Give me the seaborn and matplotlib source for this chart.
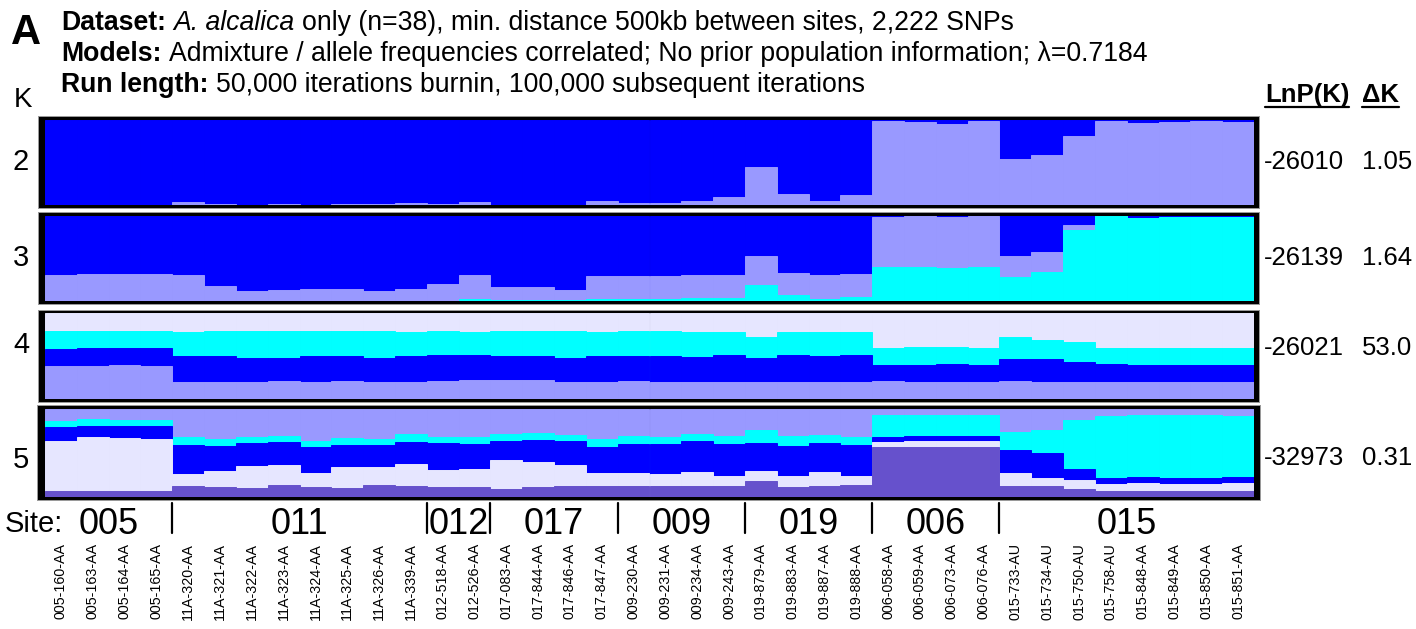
import numpy as np
import matplotlib
matplotlib.use("Agg")
import matplotlib.pyplot as plt
import matplotlib.transforms as mtransforms
from matplotlib.patches import Rectangle
from matplotlib.lines import Line2D
import seaborn as sns

sns.set_style("white")
plt.rcParams['font.family'] = ['Liberation Sans', 'DejaVu Sans']
plt.rcParams['text.color'] = 'black'
plt.rcParams['xtick.color'] = 'black'
plt.rcParams['xtick.labelcolor'] = 'black'

# ---------------- data ----------------
samples = ["005-160-AA", "005-163-AA", "005-164-AA", "005-165-AA",
           "11A-320-AA", "11A-321-AA", "11A-322-AA", "11A-323-AA",
           "11A-324-AA", "11A-325-AA", "11A-326-AA", "11A-339-AA",
           "012-518-AA", "012-526-AA",
           "017-083-AA", "017-844-AA", "017-846-AA", "017-847-AA",
           "009-230-AA", "009-231-AA", "009-234-AA", "009-243-AA",
           "019-879-AA", "019-883-AA", "019-887-AA", "019-888-AA",
           "006-058-AA", "006-059-AA", "006-073-AA", "006-076-AA",
           "015-733-AU", "015-734-AU", "015-750-AU", "015-758-AU",
           "015-848-AA", "015-849-AA", "015-850-AA", "015-851-AA"]
sites = ["005", "011", "012", "017", "009", "019", "006", "015"]
site_counts = [4, 8, 2, 4, 4, 4, 4, 8]

k_values = ["2", "3", "4", "5"]
lnp_values = ["-26010", "-26139", "-26021", "-32973"]
delta_k = ["1.05", "1.64", "53.0", "0.31"]

# K=2 (bottom -> top): light purple, blue
k2_lpurple = [0, 0, 0, 0, .035, .012, .005, .012, 0, .012, .012, .024, .012, .035,
              .005, 0, 0, .047, .024, .024, .047, .094, .447, .13, .047, .118,
              .988, .976, .953, .988, .545, .59, .816, .988, .97, .976, .988, .976]
k2_blue = [1, 1, 1, 1, .965, .988, .995, .988, 1, .988, .988, .976, .988, .965,
           .995, 1, 1, .953, .976, .976, .953, .906, .553, .87, .953, .882,
           .012, .024, .047, .012, .455, .41, .184, .012, .03, .024, .012, .024]

# K=3 (bottom -> top): cyan, light purple, blue
k3_cyan = [0, 0, .005, 0, .005, 0, 0, 0, .005, 0, 0, .005, 0, .02,
           .008, .008, .008, .02, .02, .027, .03, .03, .187, .07, .02, .047,
           .40, .40, .387, .40, .28, .34, .83, .996, .98, .99, .99, .99]
k3_lpurple = [.306, .318, .313, .318, .301, .18, .118, .129, .136, .141, .118, .136, .2, .29,
              .162, .162, .117, .28, .28, .273, .28, .28, .346, .265, .29, .273,
              .59, .60, .597, .60, .25, .234, .06, 0, 0, 0, 0, 0]
k3_blue = [.694, .682, .682, .682, .694, .82, .882, .871, .859, .859, .882, .859, .8, .69,
           .83, .83, .875, .70, .70, .70, .69, .69, .467, .665, .69, .68,
           .01, 0, .016, 0, .47, .426, .11, .004, .02, .01, .01, .01]

# K=4 (bottom -> top): light purple, blue, cyan, lavender
k4_lpurple = [.385, .385, .397, .385, .198, .198, .198, .210, .198, .210, .198, .198, .210, .222,
              .222, .222, .198, .198, .210, .198, .198, .198, .198, .198, .198, .198,
              .210, .198, .198, .198, .210, .198, .198, .198, .198, .198, .198, .198]
k4_blue = [.198, .21, .198, .21, .304, .304, .28, .268, .304, .292, .28, .304, .304, .292,
           .28, .28, .28, .304, .292, .304, .292, .315, .28, .315, .304, .315,
           .187, .198, .21, .198, .257, .268, .233, .21, .198, .198, .198, .198]
k4_cyan = [.21, .198, .198, .198, .28, .292, .315, .315, .292, .292, .315, .28, .28, .268,
           .292, .292, .315, .28, .292, .292, .292, .268, .245, .268, .28, .268,
           .198, .21, .198, .198, .257, .222, .233, .187, .198, .198, .198, .198]
k4_lavender = [.206, .206, .206, .206, .218, .206, .206, .206, .206, .206, .206, .218, .206, .218,
               .206, .206, .206, .218, .206, .206, .218, .218, .276, .218, .218, .218,
               .405, .393, .393, .405, .276, .311, .335, .405, .405, .405, .405, .405]

# K=5 (bottom -> top): dark purple, lavender, blue, cyan, light purple
k5_dpurple = [.068, .068, .068, .068, .125, .114, .102, .136, .114, .102, .136, .125, .114, .114,
              .091, .114, .125, .125, .125, .125, .125, .125, .182, .114, .125, .136,
              .568, .568, .568, .568, .125, .125, .091, .068, .068, .068, .068, .068]
k5_lavender = [.568, .614, .602, .591, .136, .182, .250, .227, .159, .239, .205, .250, .193, .205,
               .330, .284, .239, .148, .148, .136, .159, .114, .114, .125, .159, .102,
               .057, .068, .068, .068, .148, .091, .102, .080, .091, .080, .080, .091]
k5_blue = [.159, .125, .136, .148, .330, .284, .261, .261, .295, .250, .250, .250, .307, .284,
           .216, .250, .273, .295, .330, .341, .352, .364, .318, .341, .330, .352,
           .057, .057, .057, .057, .261, .284, .125, .068, .068, .068, .068, .068]
k5_cyan = [.068, .080, .068, .068, .091, .080, .068, .068, .068, .080, .068, .091, .068, .080,
           .080, .080, .068, .091, .091, .080, .080, .091, .152, .114, .091, .091,
           .250, .239, .239, .239, .205, .250, .557, .705, .705, .716, .716, .697]
k5_lpurple = [.136, .114, .125, .125, .318, .341, .318, .307, .364, .330, .341, .284, .318, .318,
              .284, .273, .295, .341, .307, .318, .284, .307, .235, .307, .295, .318,
              .068, .068, .068, .068, .261, .239, .125, .080, .068, .068, .068, .080]

# ---------------- styling ----------------
BLUE = "#0000FF"
LPURPLE = "#9999FF"
CYAN = "#00FFFF"
LAVENDER = "#E6E6FF"
DPURPLE = "#6651CC"

panels = [
    ([k2_lpurple, k2_blue], [LPURPLE, BLUE]),
    ([k3_cyan, k3_lpurple, k3_blue], [CYAN, LPURPLE, BLUE]),
    ([k4_lpurple, k4_blue, k4_cyan, k4_lavender], [LPURPLE, BLUE, CYAN, LAVENDER]),
    ([k5_dpurple, k5_lavender, k5_blue, k5_cyan, k5_lpurple], [DPURPLE, LAVENDER, BLUE, CYAN, LPURPLE]),
]

W, H = 1416, 629
fig = plt.figure(figsize=(W / 100, H / 100), dpi=100)


def fx(px):
    return px / W


def fy(py):
    return 1 - py / H


# inner plot areas (pixels: x0, x1, y0, y1) and outer frames
inner = [(45, 1254, 120, 205), (45, 1254, 216, 301), (45, 1254, 313, 399), (45, 1254, 409, 497)]
outer = [(39, 1259, 117, 208), (39, 1259, 213, 304), (39, 1259, 311, 402), (38, 1260, 406, 500)]
k_label_y = [162, 258, 345, 460]
stat_y = [162, 258, 348, 458]

axes = []
for (layers, colors), (x0, x1, y0, y1), (ox0, ox1, oy0, oy1) in zip(panels, inner, outer):
    # grey shadow + black frame behind the axes
    fig.add_artist(Rectangle((fx(ox0 - 1), fy(oy1 + 1)), fx(ox1 + 1) - fx(ox0 - 1),
                             fy(oy0 - 1) - fy(oy1 + 1), transform=fig.transFigure,
                             facecolor="#9a9a9a", edgecolor="none", zorder=-2))
    fig.add_artist(Rectangle((fx(ox0), fy(oy1)), fx(ox1) - fx(ox0), fy(oy0) - fy(oy1),
                             transform=fig.transFigure, facecolor="black",
                             edgecolor="none", zorder=-1))
    ax = fig.add_axes([fx(x0), fy(y1), fx(x1) - fx(x0), fy(y0) - fy(y1)])
    ax.set_facecolor("none")
    arr = np.array(layers, dtype=float)
    cum = np.cumsum(arr, axis=0)
    cum = cum / cum[-1]
    for i in reversed(range(len(layers))):
        sns.barplot(x=samples, y=cum[i], color=colors[i], width=1, saturation=1,
                    linewidth=0.7, edgecolor=colors[i], errorbar=None, ax=ax)
    ax.set_xlim(-0.5, len(samples) - 0.5)
    ax.set_ylim(0, 1)
    ax.set_xlabel("")
    ax.set_ylabel("")
    ax.set_yticks([])
    for sp in ax.spines.values():
        sp.set_visible(False)
    axes.append(ax)

for ax in axes[:-1]:
    ax.set_xticks([])

ax5 = axes[-1]
ax5.set_xticks(range(len(samples)))
ax5.set_xticklabels(samples, rotation=90, fontsize=10.3, color="black")
ax5.tick_params(axis="x", length=0, pad=33)

# site labels and separators
trans = mtransforms.blended_transform_factory(ax5.transData, fig.transFigure)
start = 0
bounds = []
for name, n in zip(sites, site_counts):
    center = start + (n - 1) / 2
    ax5.text(center, fy(524), name, transform=trans, ha="center", va="center",
             fontsize=26, family=["Liberation Sans Narrow", "Liberation Sans"])
    start += n
    bounds.append(start - 0.5)
for b in bounds[:-1]:
    ax5.add_line(Line2D([b, b], [fy(503), fy(533)], transform=trans, color="black",
                        linewidth=1.6, clip_on=False))
fig.text(fx(5), fy(524), "Site:", ha="left", va="center", fontsize=21,
         family=["Liberation Sans Narrow", "Liberation Sans"])

# K labels
fig.text(fx(23), fy(100), "K", ha="center", va="center", fontsize=20)
for k, yy in zip(k_values, k_label_y):
    fig.text(fx(21), fy(yy), k, ha="center", va="center", fontsize=21)

# right-hand statistics
renderer = fig.canvas.get_renderer()
for txt, xx in [("LnP(K)", 1265), ("ΔK", 1362)]:
    t = fig.text(fx(xx), fy(102), txt, ha="left", va="baseline", fontsize=18.5,
                 fontweight="bold")
    bb = t.get_window_extent(renderer)
    fig.add_artist(Line2D([bb.x0 / W, bb.x1 / W], [fy(107), fy(107)],
                          transform=fig.transFigure, color="black", linewidth=1.6))
for lnp, dk, yy in zip(lnp_values, delta_k, stat_y):
    fig.text(fx(1264), fy(yy), lnp, ha="left", va="center", fontsize=18.5)
    fig.text(fx(1362), fy(yy), dk, ha="left", va="center", fontsize=18.5)

# panel letter
fig.text(fx(11), fy(44), "A", ha="left", va="baseline", fontsize=30, fontweight="bold")

# header lines with mixed styles
header = [
    [("Dataset:", "bold", "normal"), ("A. alcalica", "normal", "italic"),
     ("only (n=38), min. distance 500kb between sites, 2,222 SNPs", "normal", "normal")],
    [("Models:", "bold", "normal"),
     ("Admixture / allele frequencies correlated; No prior population information; λ=0.7184",
      "normal", "normal")],
    [("Run length:", "bold", "normal"),
     ("50,000 iterations burnin, 100,000 subsequent iterations", "normal", "normal")],
]
fs_head = 19.2
gap = 0.278 * fs_head * 100 / 72
for line, base in zip(header, [30, 61, 92]):
    xpix = 61
    for s, w, st in line:
        t = fig.text(fx(xpix), fy(base), s, ha="left", va="baseline", fontsize=fs_head,
                     fontweight=w, fontstyle=st)
        bb = t.get_window_extent(renderer)
        xpix = bb.x1 + gap

fig.savefig("out.png", dpi=100)
